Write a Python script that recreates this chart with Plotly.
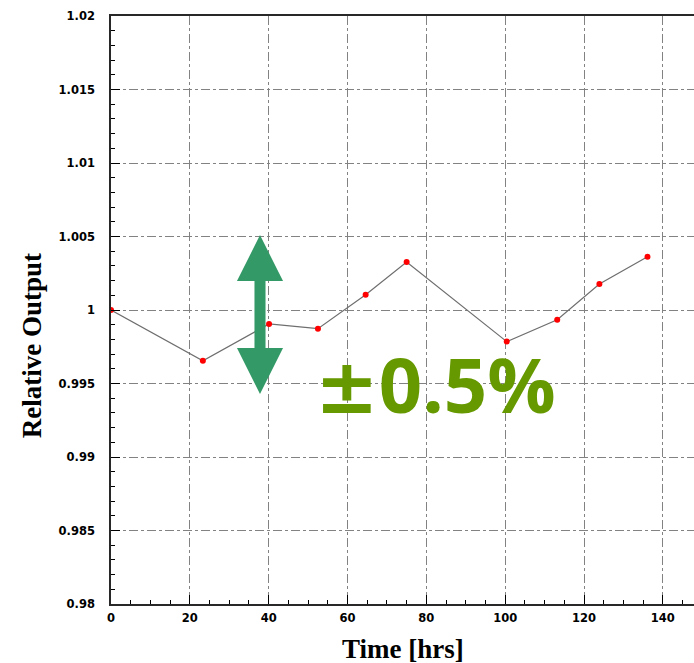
import plotly.graph_objects as go

time_hrs = [0, 23.3, 40.1, 52.5, 64.6, 75.0, 100.4, 113.2, 123.9, 136.1]
rel_output = [1.0, 0.99654, 0.99905, 0.99873, 1.00104, 1.00326, 0.99785, 0.99934, 1.00177, 1.00362]

y_tickvals = [0.98, 0.985, 0.99, 0.995, 1.0, 1.005, 1.01, 1.015, 1.02]
y_ticktext = ["0.98", "0.985", "0.99", "0.995", "1", "1.005", "1.01", "1.015", "1.02"]
x_tickvals = [0, 20, 40, 60, 80, 100, 120, 140]
x_ticktext = ["0", "20", "40", "60", "80", "100", "120", "140"]

fig = go.Figure()
fig.add_trace(go.Scatter(
    x=time_hrs, y=rel_output, mode="lines+markers",
    line=dict(color="rgb(110,110,110)", width=1.2),
    marker=dict(color="rgb(255,0,0)", size=6),
    showlegend=False,
))

grid_col = "rgb(130,130,130)"
tick_font = dict(family="DejaVu Sans", size=11.5, color="black", weight="bold")
fig.update_xaxes(
    range=[0, 147.9], tickvals=x_tickvals, ticktext=x_ticktext,
    ticks="inside", ticklen=9, tickcolor="black", tickwidth=1,
    showline=True, linecolor="rgb(40,40,40)", linewidth=1.5, mirror=True,
    showgrid=True, gridcolor=grid_col, griddash="dashdot", gridwidth=1,
    zeroline=False,
    minor=dict(dtick=5, tick0=0, ticks="inside", ticklen=4, tickcolor="black", showgrid=False),
    tickfont=tick_font,
    ticklabelstandoff=2,
)
fig.update_yaxes(
    range=[0.98, 1.02], tickvals=y_tickvals, ticktext=y_ticktext,
    ticks="inside", ticklen=9, tickcolor="black", tickwidth=1,
    showline=True, linecolor="rgb(40,40,40)", linewidth=1.5,
    showgrid=True, gridcolor=grid_col, griddash="dashdot", gridwidth=1,
    zeroline=False,
    minor=dict(dtick=0.001, tick0=0.98, ticks="inside", ticklen=4, tickcolor="black", showgrid=False),
    tickfont=tick_font,
    ticklabelstandoff=12,
)

# double arrow (annotation graphic)
xc, hw, sw = 37.8, 5.84, 1.40
yt, yhb1, yhb2, yb = 1.005095, 1.00197, 0.99742, 0.99429
path = (f"M {xc},{yt} L {xc+hw},{yhb1} L {xc+sw},{yhb1} L {xc+sw},{yhb2} L {xc+hw},{yhb2} "
        f"L {xc},{yb} L {xc-hw},{yhb2} L {xc-sw},{yhb2} L {xc-sw},{yhb1} L {xc-hw},{yhb1} Z")
fig.add_shape(type="path", path=path, xref="x", yref="y",
              fillcolor="rgb(51,153,102)", line=dict(width=0))

fig.add_annotation(x=(436-111)/583, y=(604-383)/588.6, xref="paper", yref="paper",
                   text="<b><span style='font-family:DejaVu Sans'>±</span>0.5%</b>",
                   showarrow=False, xanchor="center", yanchor="middle",
                   font=dict(family="Open Sans", size=76, color="rgb(102,153,0)"))

fig.add_annotation(x=(32-111)/583, y=(604-346)/588.6, xref="paper", yref="paper",
                   text="<b>Relative Output</b>", textangle=-90, showarrow=False,
                   xanchor="center", yanchor="middle",
                   font=dict(family="Liberation Serif", size=27, color="black"))
fig.add_annotation(x=(403-111)/583, y=(604-649)/588.6, xref="paper", yref="paper",
                   text="<b>Time [hrs]</b>", showarrow=False,
                   xanchor="center", yanchor="middle",
                   font=dict(family="Liberation Serif", size=27, color="black"))

fig.update_layout(
    width=694, height=663,
    margin=dict(l=111, r=0, t=16, b=59),
    paper_bgcolor="white", plot_bgcolor="white",
)
fig.write_html("out.html")
